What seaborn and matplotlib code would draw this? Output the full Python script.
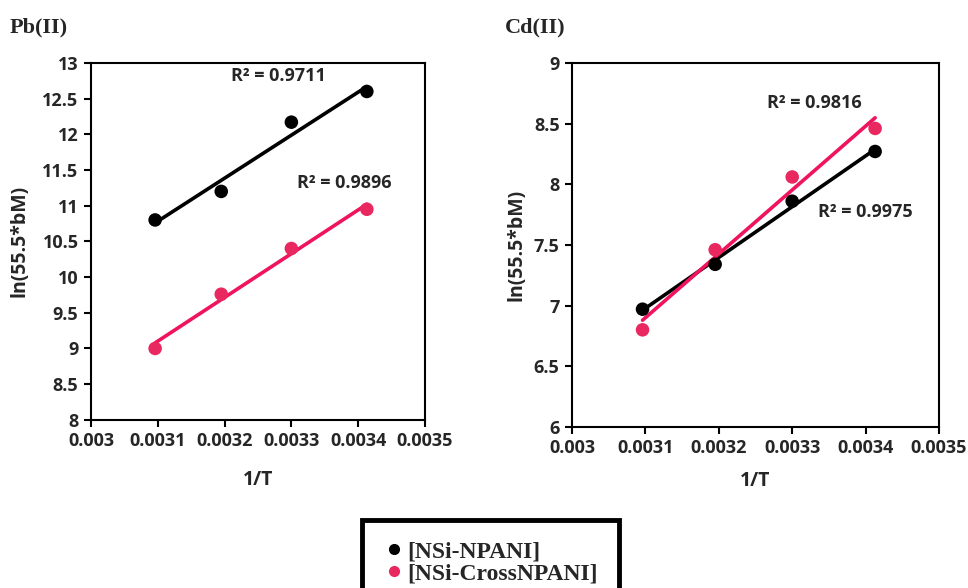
import matplotlib
import numpy as np
import pandas as pd
import seaborn as sns

matplotlib.use("Agg")
import matplotlib.pyplot as plt
from matplotlib.lines import Line2D

# data
inv_t = [0.003096, 0.003195, 0.003300, 0.003413]
pb_npani = [10.80, 11.20, 12.17, 12.60]
pb_cross = [9.00, 9.76, 10.40, 10.95]
cd_npani = [6.97, 7.34, 7.86, 8.27]
cd_cross = [6.80, 7.46, 8.06, 8.46]

pb_r2 = ["0.9711", "0.9896"]
cd_r2 = ["0.9975", "0.9816"]

x_ticks = [0.003, 0.0031, 0.0032, 0.0033, 0.0034, 0.0035]
x_tick_labels = ["0.003", "0.0031", "0.0032", "0.0033", "0.0034", "0.0035"]
pb_y_ticks = [8, 8.5, 9, 9.5, 10, 10.5, 11, 11.5, 12, 12.5, 13]
cd_y_ticks = [6, 6.5, 7, 7.5, 8, 8.5, 9]

series_names = ["[NSi-NPANI]", "[NSi-CrossNPANI]"]
BLACK = "#000000"
PINK = "#f0135e"
PINK_DOT = "#e8285f"
FS = 13

sns.set_style("ticks")
plt.rcParams["font.family"] = ["Open Sans", "DejaVu Sans"]
plt.rcParams["font.weight"] = "bold"

fig = plt.figure(figsize=(9.68, 5.88), dpi=100)
ax_pb = fig.add_axes([0.094, 0.286, 0.345, 0.607])
ax_cd = fig.add_axes([0.591, 0.274, 0.379, 0.619])


def draw_panel(ax, y1, y2, yticks, xpad, ypad):
    df = pd.DataFrame({"x": inv_t, "a": y1, "b": y2})
    for col, lc, dc in [("a", BLACK, BLACK), ("b", PINK, PINK_DOT)]:
        sns.regplot(data=df, x="x", y=col, ax=ax, ci=None, truncate=True,
                    scatter_kws=dict(s=95, color=dc, edgecolor="none", alpha=1, zorder=3),
                    line_kws=dict(color=lc, lw=2.6, zorder=2))
    ax.set_xlim(0.003, 0.0035)
    ax.set_ylim(yticks[0], yticks[-1])
    ax.set_xticks(x_ticks)
    ax.set_xticklabels(x_tick_labels)
    ax.set_yticks(yticks)
    ax.set_yticklabels([f"{t:g}" for t in yticks])
    ax.tick_params(labelsize=FS, length=5, width=1.5, color="black", pad=4)
    for lab in ax.get_xticklabels() + ax.get_yticklabels():
        lab.set_fontweight("bold")
    for sp in ax.spines.values():
        sp.set_visible(True)
        sp.set_linewidth(1.5)
        sp.set_color("black")
    ax.set_xlabel("1/T", fontsize=14, fontweight="bold", labelpad=xpad)
    ax.set_ylabel("ln(55.5*bM)", fontsize=14, fontweight="bold", labelpad=ypad)


draw_panel(ax_pb, pb_npani, pb_cross, pb_y_ticks, 14, 9)
draw_panel(ax_cd, cd_npani, cd_cross, cd_y_ticks, 10, 5)

ax_pb.text(0.00328, 12.74, f"R² = {pb_r2[0]}", fontsize=FS, fontweight="bold", ha="center")
ax_pb.text(0.00338, 11.25, f"R² = {pb_r2[1]}", fontsize=FS, fontweight="bold", ha="center")
ax_cd.text(0.00340, 7.73, f"R² = {cd_r2[0]}", fontsize=FS, fontweight="bold", ha="center")
ax_cd.text(0.00333, 8.63, f"R² = {cd_r2[1]}", fontsize=FS, fontweight="bold", ha="center")

fig.text(0.010, 0.945, "Pb(II)", family="Liberation Serif", fontsize=16, fontweight="bold")
fig.text(0.522, 0.945, "Cd(II)", family="Liberation Serif", fontsize=16, fontweight="bold")

handles = [Line2D([], [], ls="none", marker="o", ms=7, color=BLACK),
           Line2D([], [], ls="none", marker="o", ms=7, color=PINK_DOT)]
leg = fig.legend(handles, series_names, loc="upper left", bbox_to_anchor=(0.374, 0.116),
                 frameon=True, fancybox=False, framealpha=1, handletextpad=0.1,
                 borderpad=0.9, borderaxespad=0, labelspacing=0.0, handlelength=0.9,
                 prop=dict(family="Liberation Serif", size=17, weight="bold"))
leg.get_frame().set_edgecolor("black")
leg.get_frame().set_linewidth(3.5)

fig.savefig("out.png", dpi=100)
